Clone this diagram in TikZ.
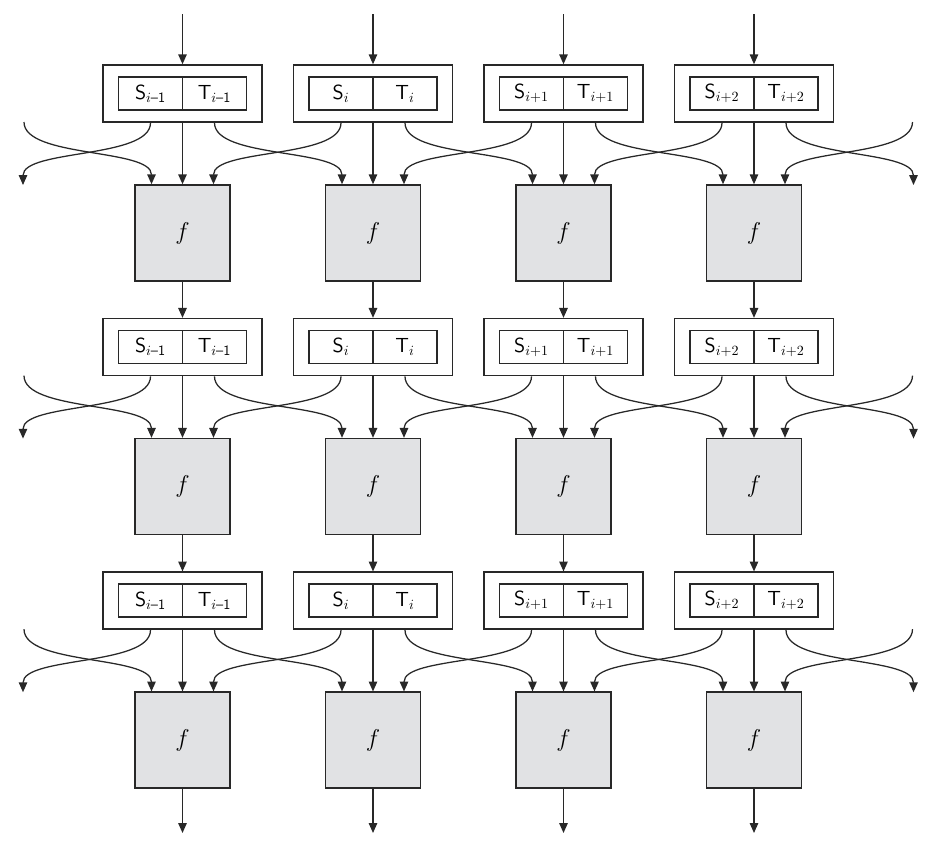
\documentclass[tikz,border=0pt]{standalone}
\usepackage{amsmath}
\usepackage{tikz}
\usetikzlibrary{calc, positioning, arrows.meta}
\definecolor{TintaGris}{RGB}{40, 40, 40}
\definecolor{RellenoGris}{RGB}{225, 226, 228}

\begin{document}
\begin{tikzpicture}[
    estado/.style={draw=TintaGris, line width=1.1pt, minimum width=3.975cm, minimum height=1.425cm, inner sep=0pt},
    mitad/.style={draw=TintaGris, line width=1.1pt, minimum width=1.6cm, minimum height=0.825cm, inner sep=0pt, font=\fontsize{14.5}{17}\selectfont\sffamily},
    funcion/.style={draw=TintaGris, line width=1.1pt, fill=RellenoGris, minimum width=2.375cm, minimum height=2.4cm, font=\fontsize{16}{19}\selectfont},
    flecha/.style={draw=TintaGris, line width=0.9pt, -{Triangle[length=7pt, width=6pt]}},
    cruce/.style={flecha, out=-90, in=90, looseness=0.65}]
    \useasboundingbox (0,0) rectangle (23.225,-21.15);

    \foreach \r [evaluate=\r as \yt using -1.625-6.34*\r, evaluate=\r as \rp using int(\r-1)] in {0,1,2} {
        % Bloques de estado y funcion f
        \foreach \k/\sub [evaluate=\k as \xc using 4.5625+4.7625*(\k-1)] in {1/{\text{--1}}, 2/{}, 3/{+1}, 4/{+2}} {
            \node[estado] (est-\r-\k) at (\xc, \yt-0.7125) {};
            \node[mitad] (s-\r-\k) at (\xc-0.8, \yt-0.7125) {S$_{i\sub}$};
            \node[mitad] (t-\r-\k) at (\xc+0.8, \yt-0.7125) {T$_{i\sub}$};
            \node[funcion] (f-\r-\k) at (\xc, \yt-4.2) {$f$};
            \coordinate (sS-\r-\k) at (s-\r-\k.south |- est-\r-\k.south);
            \coordinate (sT-\r-\k) at (t-\r-\k.south |- est-\r-\k.south);
            \coordinate (eL-\r-\k) at ($(f-\r-\k.north)+(-0.775,0)$);
            \coordinate (eR-\r-\k) at ($(f-\r-\k.north)+(0.775,0)$);
            \ifnum\r=0
                \coordinate (ent-\k) at (\xc, -0.35);
                \draw[flecha] (ent-\k) -- (est-\r-\k);
            \else
                \draw[flecha] (f-\rp-\k) -- (est-\r-\k);
            \fi
            \draw[flecha] (est-\r-\k) -- (f-\r-\k);
        }
        % Extremos
        \coordinate (sT-\r-0) at (0.6, \yt-1.425);
        \coordinate (eR-\r-0) at (0.575, \yt-3.0);
        \coordinate (sS-\r-5) at (22.8125, \yt-1.425);
        \coordinate (eL-\r-5) at (22.8375, \yt-3.0);
        % Cruces
        \foreach \k [evaluate=\k as \kn using int(\k+1)] in {0,...,4} {
            \draw[cruce] (sT-\r-\k) to (eL-\r-\kn);
            \draw[cruce] (sS-\r-\kn) to (eR-\r-\k);
        }
    }

    % Salidas
    \foreach \k in {1,...,4} {
        \coordinate (sal-\k) at ($(f-2-\k.south)+(0,-1.1)$);
        \draw[flecha] (f-2-\k) -- (sal-\k);
    }
\end{tikzpicture}
\end{document}
